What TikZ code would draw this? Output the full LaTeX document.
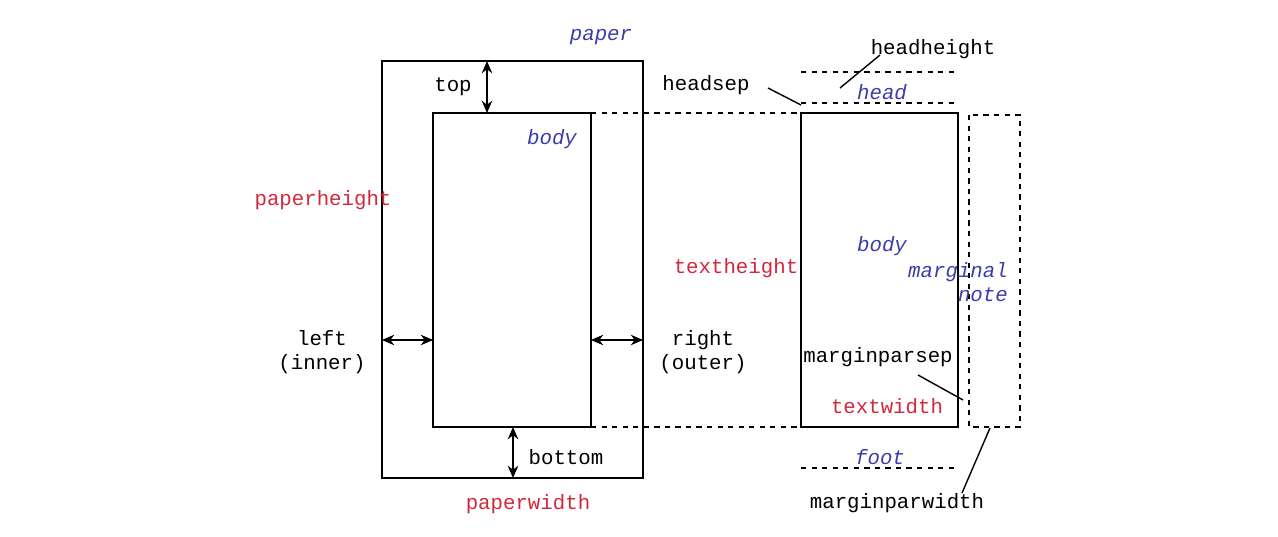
\documentclass[tikz,border=0pt]{standalone}
\usepackage{fontspec}
\setmonofont{Liberation Mono}
\usetikzlibrary{arrows.meta, positioning}
\definecolor{areablue}{RGB}{60,60,170}
\definecolor{lenred}{RGB}{210,40,60}
\tikzset{
  lbl/.style={font=\ttfamily\fontsize{11.8}{14}\selectfont, inner sep=1pt},
  area/.style={lbl, font=\ttfamily\itshape\fontsize{11.8}{14}\selectfont, text=areablue},
  len/.style={lbl, text=lenred},
  dim/.style={{Stealth[length=7pt,width=6pt]}-{Stealth[length=7pt,width=6pt]}, thick},
  guide/.style={dashed, thick},
  frame/.style={draw, thick}
}
\begin{document}
\begin{tikzpicture}[x=0.02cm, y=-0.02cm]
\useasboundingbox (0,0) rectangle (1278,537);
% left page
\draw[frame] (382,61) coordinate (pTL) rectangle (643,478) coordinate (pBR);
\draw[frame] (433,113) coordinate (bTL) rectangle (591,427) coordinate (bBR);
\coordinate (bTR) at (591,113);
\coordinate (bBL) at (433,427);
\node[area] (paper) at (601,37) {paper};
\node[area] (body1) at (552,139) {body};
\node[lbl] (top) at (453,87) {top};
\node[len] (ph) at (323,200) {paperheight};
\node[lbl, align=center] (left) at (322,352) {left\\(inner)};
\node[lbl, align=center] (right) at (703,352) {right\\(outer)};
\node[lbl] (bottom) at (566,457) {bottom};
\node[len] (pw) at (528,504) {paperwidth};
\coordinate (tA) at (487,61); \coordinate (tB) at (487,113);
\coordinate (lA) at (382,340); \coordinate (lB) at (433,340);
\coordinate (rA) at (591,340); \coordinate (rB) at (643,340);
\coordinate (btA) at (513,427); \coordinate (btB) at (513,478);
\draw[dim] (tA) -- (tB);
\draw[dim] (lA) -- (lB);
\draw[dim] (rA) -- (rB);
\draw[dim] (btA) -- (btB);
% right page
\draw[frame] (801,113) coordinate (tTL) rectangle (958,427) coordinate (tBR);
\coordinate (tBL) at (801,427);
\draw[guide] (bTR) -- (tTL);
\draw[guide] (bBR) -- (tBL);
\draw[guide] (969,115) coordinate (mTL) rectangle (1020,427) coordinate (mBR);
\draw[guide] (801,72) coordinate (hh1) -- (958,72) coordinate (hh2);
\draw[guide] (801,103) coordinate (hs1) -- (958,103) coordinate (hs2);
\draw[guide] (801,468) coordinate (ft1) -- (958,468) coordinate (ft2);
\node[lbl] (headheight) at (933,49) {headheight};
\node[lbl] (headsep) at (706,85) {headsep};
\node[area] (head) at (882,92) {head};
\node[area] (body2) at (882,246) {body};
\node[len] (th) at (736,268) {textheight};
\node[area, align=right] (mnote) at (958,282) {marginal\\note};
\node[lbl] (mps) at (878,357) {marginparsep};
\node[len] (tw) at (887,406) {textwidth};
\node[area] (foot) at (880,457) {foot};
\node[lbl] (mpw) at (897,503) {marginparwidth};
\coordinate (hhA) at (880,55); \coordinate (hhB) at (840,88);
\coordinate (hsA) at (768,88); \coordinate (hsB) at (801,105);
\coordinate (mpsA) at (918,375); \coordinate (mpsB) at (963,400);
\coordinate (mpwA) at (990,428); \coordinate (mpwB) at (962,493);
\draw[thick] (hhA) -- (hhB);
\draw[thick] (hsA) -- (hsB);
\draw[thick] (mpsA) -- (mpsB);
\draw[thick] (mpwA) -- (mpwB);
\end{tikzpicture}
\end{document}
